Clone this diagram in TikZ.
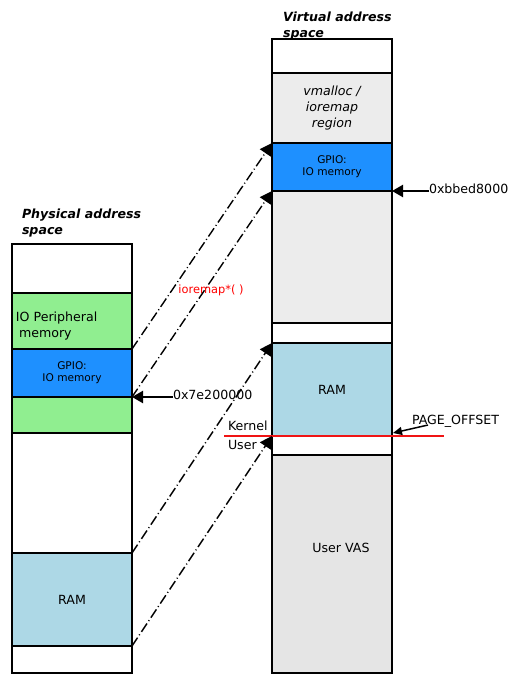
\documentclass[tikz,border=0pt]{standalone}
\usepackage{fontspec}
\setmainfont{DejaVu Sans}
\usetikzlibrary{arrows.meta}
\definecolor{iogreen}{RGB}{144,238,144}
\definecolor{gpioblue}{RGB}{30,144,255}
\definecolor{ramblue}{RGB}{173,216,230}
\definecolor{vasgray}{RGB}{229,229,229}
\definecolor{vmgray}{RGB}{236,236,236}
\definecolor{offred}{RGB}{240,20,20}
\newcommand{\defaultblockwidth}{120pt}
\newcommand{\labelfont}{\fontsize{12.6}{15.6}\selectfont}
\tikzstyle{block}=[draw, line width=2.2pt, inner sep=0, outer sep=0, minimum width=\defaultblockwidth, anchor=north, align=center, font=\labelfont]
\tikzstyle{gpio}=[block, fill=gpioblue, font=\fontsize{10.6}{12}\selectfont]
\tikzstyle{iomem}=[block, fill=iogreen]
\tikzstyle{ram}=[block, fill=ramblue]
\tikzstyle{vmalloc}=[block, fill=vmgray, font=\labelfont\itshape]
\tikzstyle{txt}=[inner sep=0, outer sep=0, font=\labelfont]
\tikzstyle{heading}=[txt, anchor=west, align=left, font=\labelfont\bfseries\itshape]
\tikzstyle{mapping}=[line width=1.4pt, dash pattern=on 10pt off 3pt on 1pt off 3pt, -{Triangle[length=12pt, width=13pt]}]
\tikzstyle{pointer}=[line width=2.2pt, -{Triangle[length=11pt, width=12pt]}]
\begin{document}
\begin{tikzpicture}[x=1pt, y=-1pt]
        \useasboundingbox (0,0) rectangle (519,685);
        % physical address space
        \node[heading] (phead) at (22,223) {Physical address\\space};
        \node[block, minimum height=49pt] (p0) at (72,244) {};
        \node[iomem, minimum height=56pt] (pio) at (72,293) {};
        \node[txt, anchor=west, align=left] (piolbl) at (16,326) {IO Peripheral\\\hspace{3pt}memory};
        \node[gpio, minimum height=48pt] (pgpio) at (72,349) {GPIO:\\IO memory};
        \node[iomem, minimum height=36pt] (pio2) at (72,397) {};
        \node[block, minimum height=120pt] (p1) at (72,433) {};
        \node[ram, minimum height=93pt] (pram) at (72,553) {RAM};
        \node[block, minimum height=27pt] (p2) at (72,646) {};
        % virtual address space
        \node[heading] (vhead) at (283,26) {Virtual address\\space};
        \node[block, minimum height=34pt] (v0) at (332,39) {};
        \node[vmalloc, minimum height=70pt] (vmall) at (332,73) {vmalloc /\\ioremap\\region};
        \node[gpio, minimum height=48pt] (vgpio) at (332,143) {GPIO:\\IO memory};
        \node[vmalloc, minimum height=132pt] (vmall2) at (332,191) {};
        \node[block, minimum height=20pt] (v1) at (332,323) {};
        \node[ram, minimum height=93pt] (vram) at (332,343) {RAM};
        \node[block, minimum height=19pt] (v2) at (332,436) {};
        \node[block, fill=vasgray, minimum height=218pt] (vuser) at (332,455) {};
        \node[txt] (vuserlbl) at (341,548) {User VAS};
        % kernel / user split
        \coordinate (splitL) at (224,436);
        \coordinate (splitR) at (444,436);
        \draw[offred, line width=2pt] (splitL) -- (splitR);
        \node[txt, anchor=west] (kernel) at (228,426) {Kernel};
        \node[txt, anchor=west] (user) at (228,445) {User};
        % mappings
        \draw[mapping] (pgpio.north east) -- (vgpio.north west);
        \draw[mapping] (pgpio.south east) -- (vgpio.south west);
        \draw[mapping] (pram.north east) -- (vram.north west);
        \draw[mapping] (pram.south east) -- (vram.south west);
        \node[txt, text=red, font=\fontsize{11.4}{13}\selectfont] (ioremap) at (211,290) {ioremap*( )};
        % addresses
        \node[txt, anchor=west] (vaddr) at (429,189) {0xbbed8000};
        \node[txt, anchor=west] (paddr) at (173,395) {0x7e200000};
        \node[txt, anchor=west] (poff) at (412,421) {PAGE\_OFFSET};
        \coordinate (pofftail) at (428,425);
        \draw[pointer] (vaddr.west |- vgpio.south east) -- (vgpio.south east);
        \draw[pointer] (paddr.west |- pgpio.south east) -- (pgpio.south east);
        \draw[line width=1.5pt, -{Triangle[length=9pt, width=8pt]}] (pofftail) -- (393,433);
    \end{tikzpicture}
\end{document}
